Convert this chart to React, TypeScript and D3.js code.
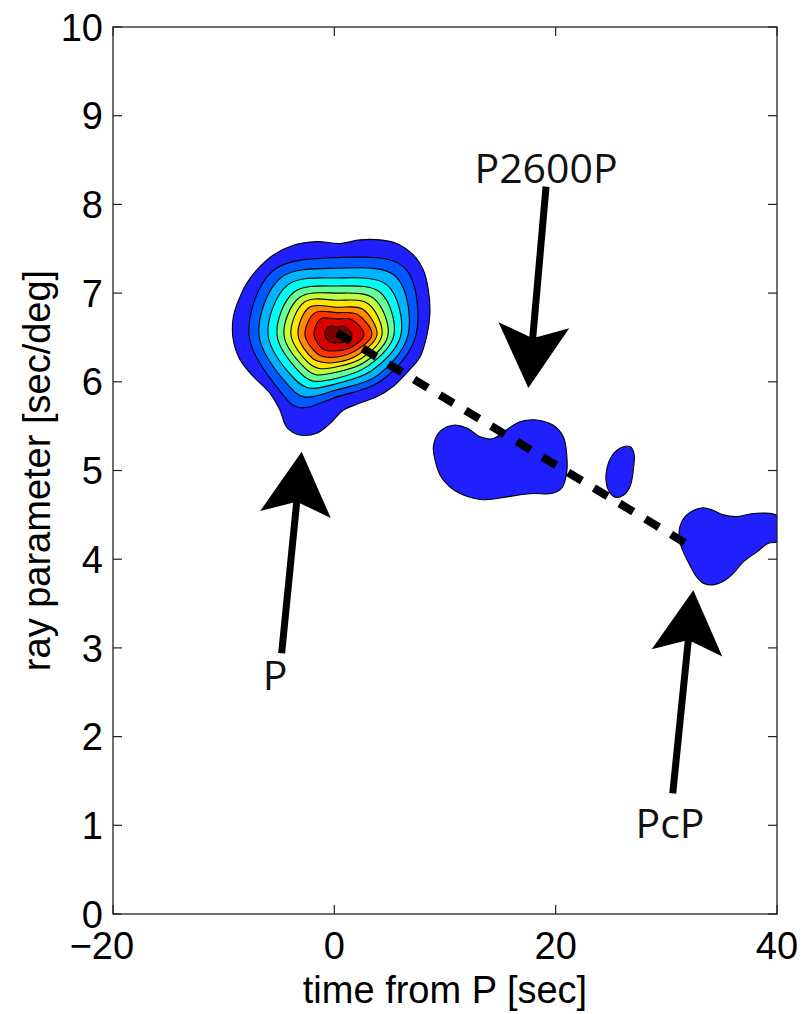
import React from "react";
import * as d3 from "d3";

const W = 804;
const H = 1014;
const M = { left: 113, right: 777, top: 27, bottom: 914 };

const timeDomain = [-20, 40];
const rayDomain = [0, 10];
const timeTicks = [-20, 0, 20, 40];
const rayTicks = [0, 1, 2, 3, 4, 5, 6, 7, 8, 9, 10];

// jet colours of the filled bands, outer -> inner
const levelColors = [
  "rgb(32,32,255)", "rgb(0,89,255)", "rgb(0,179,255)", "rgb(0,255,242)",
  "rgb(102,255,153)", "rgb(191,255,64)", "rgb(255,230,0)", "rgb(255,140,0)",
  "rgb(255,51,0)", "rgb(217,0,0)", "rgb(128,0,0)",
];

// main P arrival contour rings [time, ray parameter], outer -> inner
const ring1 = [[-7.02,7.26],[-5.51,7.43],[-3.7,7.54],[-1.6,7.58],[0.51,7.56],[2.32,7.6],[4.13,7.6],[5.63,7.56],[7.14,7.43],[8.04,7.26],[8.49,7.04],[8.64,6.77],[8.34,6.51],[7.74,6.28],[6.54,6.1],[5.33,5.95],[3.83,5.83],[2.32,5.76],[0.81,5.68],[-0.39,5.53],[-1.6,5.42],[-3.1,5.4],[-4.31,5.49],[-4.91,5.68],[-5.81,5.87],[-7.32,6.06],[-8.52,6.25],[-9.13,6.47],[-9.13,6.73],[-8.52,6.96],[-7.92,7.11]];
const ring2 = [[-7.71,6.53],[-5.57,7.25],[0.24,7.4],[6.31,7.29],[7.38,6.53],[4.33,6.02],[0.24,5.83],[-3.24,5.71],[-4.87,5.89]];
const ring3 = [[-6.81,6.53],[-4.87,7.17],[0.24,7.28],[5.54,7.19],[6.66,6.53],[3.88,6.07],[0.24,5.91],[-2.73,5.83],[-4.23,5.97]];
const ring4 = [[-5.99,6.53],[-4.23,7.09],[0.24,7.17],[4.78,7.09],[6.02,6.53],[3.43,6.13],[0.24,5.98],[-2.31,5.93],[-3.66,6.04]];
const ring5 = [[-5.18,6.53],[-3.66,7.01],[0.24,7.08],[4.14,7.01],[5.39,6.53],[3.05,6.18],[0.24,6.04],[-1.97,6.01],[-3.15,6.11]];
const ring6 = [[-4.55,6.53],[-3.15,6.95],[0.24,7.0],[3.56,6.94],[4.85,6.53],[2.73,6.22],[0.24,6.11],[-1.67,6.08],[-2.7,6.16]];
const ring7 = [[-3.92,6.53],[-2.7,6.9],[0.24,6.92],[3.05,6.88],[4.31,6.53],[2.41,6.26],[0.24,6.17],[-1.37,6.15],[-2.31,6.21]];
const ring8 = [[-3.28,6.53],[-2.25,6.84],[0.24,6.84],[2.54,6.82],[3.85,6.53],[2.09,6.3],[0.24,6.22],[-1.08,6.22],[-1.93,6.26]];
const ring9 = [[-2.65,6.53],[-1.74,6.78],[0.24,6.78],[2.09,6.76],[3.4,6.53],[1.77,6.34],[0.24,6.28],[-0.82,6.28],[-1.48,6.31]];
const ring10 = [[-1.84,6.53],[-1.23,6.71],[0.24,6.71],[1.58,6.7],[2.68,6.53],[1.39,6.38],[0.24,6.35],[-0.52,6.35],[-1.04,6.37]];
const ring11 = [[-0.84,6.53],[-0.53,6.62],[0.24,6.62],[0.94,6.62],[1.6,6.53],[0.88,6.45],[0.24,6.44],[-0.14,6.44],[-0.4,6.45]];
const mainRings = [ring1, ring2, ring3, ring4, ring5, ring6, ring7, ring8, ring9, ring10, ring11];

// secondary lowest-level patches
const blobP2600 = [[8.95,5.27],[9.55,5.44],[10.75,5.51],[11.96,5.48],[13.16,5.38],[14.37,5.36],[15.57,5.46],[16.78,5.55],[18.28,5.57],[19.79,5.51],[20.69,5.38],[20.99,5.19],[20.99,4.97],[20.54,4.8],[19.64,4.74],[17.98,4.74],[16.48,4.72],[14.97,4.69],[13.46,4.67],[11.96,4.71],[10.6,4.8],[9.55,4.95],[9.1,5.12]];
const blobSmall = [[24.61,5.01],[25.06,5.16],[25.81,5.25],[26.72,5.27],[27.08,5.19],[27.02,5.01],[26.72,4.82],[26.11,4.72],[25.36,4.7],[24.76,4.78],[24.55,4.89]];
const blobPcP = [[31.23,4.37],[31.69,4.48],[32.44,4.55],[33.34,4.58],[34.25,4.55],[35.15,4.5],[36.36,4.48],[37.56,4.51],[38.77,4.52],[39.67,4.51],[40.4,4.46],[40.6,4.3],[40.3,4.2],[39.22,4.18],[38.16,4.08],[36.96,3.97],[36.05,3.84],[35.15,3.75],[34.25,3.71],[33.34,3.73],[32.74,3.8],[32.14,3.93],[31.54,4.08],[31.17,4.22]];
const sideBlobs = [blobP2600, blobSmall, blobPcP];

// slowness trend line
const trendLine = [[0.24, 6.55], [32.0, 4.16]];

// annotation arrows: tail, tip, label, label anchor
const arrowTails = [[-4.76, 2.94], [19.13, 8.2], [30.58, 1.36]];
const arrowTips = [[-2.95, 5.21], [17.53, 5.93], [32.44, 3.65]];
const arrowLabels = ["P", "P2600P", "PcP"];
const arrowLabelPos = [[-5.36, 2.53], [19.13, 8.24], [30.33, 0.857]];

const axisFont = "'Liberation Sans', Arial, Helvetica, sans-serif";
const annoFont = "'Open Sans', 'Noto Sans', sans-serif";

export default function App() {
  const x = d3.scaleLinear().domain(timeDomain).range([M.left, M.right]);
  const y = d3.scaleLinear().domain(rayDomain).range([M.bottom, M.top]);
  const area = d3
    .line<number[]>()
    .x((d) => x(d[0]))
    .y((d) => y(d[1]))
    .curve(d3.curveCatmullRomClosed.alpha(0.5));
  const straight = d3
    .line<number[]>()
    .x((d) => x(d[0]))
    .y((d) => y(d[1]));

  const tick = 9;
  const fs = 38;

  const arrows = arrowTails.map((tail, i) => {
    const tip = arrowTips[i];
    const tx = x(tail[0]), ty = y(tail[1]);
    const hx = x(tip[0]), hy = y(tip[1]);
    const len = Math.hypot(hx - tx, hy - ty);
    const ux = (hx - tx) / len, uy = (hy - ty) / len;
    const nx = -uy, ny = ux;
    const L = 63, Wd = 35.5, N = 50;
    const head = [
      [hx, hy],
      [hx - L * ux + Wd * nx, hy - L * uy + Wd * ny],
      [hx - N * ux, hy - N * uy],
      [hx - L * ux - Wd * nx, hy - L * uy - Wd * ny],
    ];
    return (
      <g key={i}>
        <line x1={tx} y1={ty} x2={hx - (N - 2) * ux} y2={hy - (N - 2) * uy} stroke="#000" strokeWidth={7} />
        <polygon points={head.map((p) => p.join(",")).join(" ")} fill="#000" />
        <text
          x={x(arrowLabelPos[i][0])}
          y={y(arrowLabelPos[i][1])}
          textAnchor="middle"
          fontFamily={annoFont}
          fontSize={41}
          fill="#111"
        >
          {arrowLabels[i]}
        </text>
      </g>
    );
  });

  return (
    <svg width={W} height={H} style={{ position: "absolute", left: 0, top: 0, background: "#fff" }}>
      <defs>
        <clipPath id="plotClip">
          <rect x={M.left} y={M.top} width={M.right - M.left} height={M.bottom - M.top} />
        </clipPath>
      </defs>
      <rect x={0} y={0} width={W} height={H} fill="#fff" />
      <g clipPath="url(#plotClip)">
        {mainRings.map((r, i) => (
          <path key={i} d={area(r) || ""} fill={levelColors[i]} stroke="#000" strokeWidth={1.1} />
        ))}
        {sideBlobs.map((b, i) => (
          <path key={"b" + i} d={area(b) || ""} fill={levelColors[0]} stroke="#000" strokeWidth={1.1} />
        ))}
        <path d={straight(trendLine) || ""} stroke="#000" strokeWidth={8} strokeDasharray="16 14" fill="none" />
      </g>
      {/* axes box */}
      <rect x={M.left} y={M.top} width={M.right - M.left} height={M.bottom - M.top} fill="none" stroke="#222" strokeWidth={1.3} />
      {timeTicks.map((t) => (
        <g key={"xt" + t}>
          <line x1={x(t)} x2={x(t)} y1={M.bottom} y2={M.bottom - tick} stroke="#222" strokeWidth={1.2} />
          <line x1={x(t)} x2={x(t)} y1={M.top} y2={M.top + tick} stroke="#222" strokeWidth={1.2} />
          <text
            x={t < 0 ? x(t) + fs * 0.556 : x(t)}
            y={959}
            textAnchor={t < 0 ? "end" : "middle"}
            fontFamily={axisFont}
            fontSize={fs}
            fill="#000"
          >
            {t < 0 ? "\u2212" + Math.abs(t) : String(t)}
          </text>
        </g>
      ))}
      {rayTicks.map((v) => (
        <g key={"yt" + v}>
          <line x1={M.left} x2={M.left + tick} y1={y(v)} y2={y(v)} stroke="#222" strokeWidth={1.2} />
          <line x1={M.right} x2={M.right - tick} y1={y(v)} y2={y(v)} stroke="#222" strokeWidth={1.2} />
          <text x={103} y={y(v)} dy="0.36em" textAnchor="end" fontFamily={axisFont} fontSize={fs} fill="#000">
            {v}
          </text>
        </g>
      ))}
      <text x={(M.left + M.right) / 2} y={1003} textAnchor="middle" fontFamily={axisFont} fontSize={fs} fill="#000">
        time from P [sec]
      </text>
      <text
        transform={`translate(50,${(M.top + M.bottom) / 2}) rotate(-90)`}
        textAnchor="middle"
        fontFamily={axisFont}
        fontSize={fs}
        fill="#000"
      >
        ray parameter [sec/deg]
      </text>
      {arrows}
    </svg>
  );
}
